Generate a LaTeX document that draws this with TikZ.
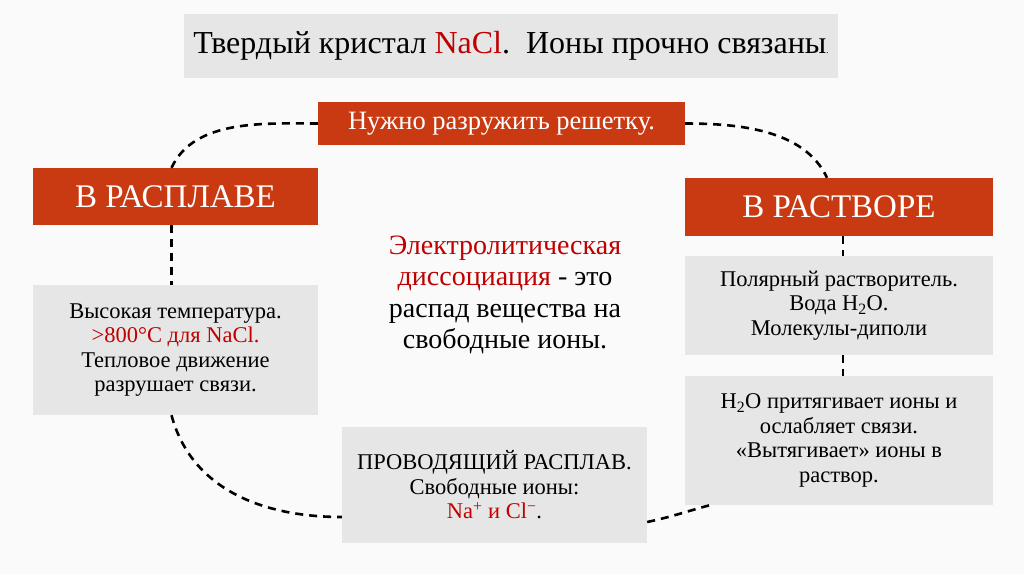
\documentclass[tikz,border=0pt]{standalone}
\usepackage{fontspec}
\setmainfont{Liberation Serif}
\usetikzlibrary{positioning}
\definecolor{Brick}{HTML}{C93A12}
\definecolor{Ash}{HTML}{E6E6E6}
\definecolor{Paper}{HTML}{FAFAFA}
\definecolor{Crimson}{HTML}{C00000}

\begin{document}
\begin{tikzpicture}[x=1pt,y=-1pt,
    redbox/.style={fill=Brick,text=white,inner sep=0pt,align=center},
    greybox/.style={fill=Ash,inner sep=0pt,align=center,font=\fontsize{22.5}{24.5}\selectfont},
    loopline/.style={line width=2.6pt,dash pattern=on 8pt off 6pt}]
    \fill[Paper] (0,0) rectangle (1024,574);
    % boxes
    \node[greybox,minimum width=654pt,minimum height=64pt,font=\fontsize{32}{34}\selectfont] (solid) at (511,46) {Твердый кристал \textcolor{Crimson}{NaCl}.\ \ Ионы прочно связаны{\small .}};
    \node[redbox,minimum width=367pt,minimum height=43pt,font=\fontsize{26.5}{28}\selectfont] (lattice) at (501.5,123.5) {Нужно разружить решетку.};
    \node[redbox,minimum width=285pt,minimum height=57pt,font=\fontsize{33}{34}\selectfont] (melt) at (175.5,196.5) {В РАСПЛАВЕ};
    \node[greybox,minimum width=285pt,minimum height=130pt] (heat) at (175.5,350) {Высокая температура.\\\textcolor{Crimson}{>800°C для NaCl.}\\Тепловое движение\\разрушает связи.};
    \node[align=center,font=\fontsize{28}{31.5}\selectfont] (define) at (505,295) {\textcolor{Crimson}{Электролитическая}\\\textcolor{Crimson}{диссоциация} - это\\распад вещества на\\свободные ионы.};
    \node[redbox,minimum width=308pt,minimum height=58pt,font=\fontsize{33}{34}\selectfont] (solution) at (839,207) {В РАСТВОРЕ};
    \node[greybox,minimum width=308pt,minimum height=99pt] (polar) at (839,305.5) {Полярный растворитель.\\Вода H\textsubscript{2}O.\\Молекулы-диполи};
    \node[greybox,minimum width=308pt,minimum height=129pt] (pull) at (839,440.5) {H\textsubscript{2}O притягивает ионы и\\ослабляет связи.\\«Вытягивает» ионы в\\раствор.};
    \node[greybox,minimum width=305pt,minimum height=116pt] (conduct) at (494.5,485) {ПРОВОДЯЩИЙ РАСПЛАВ.\\Свободные ионы:\\\textcolor{Crimson}{Na\textsuperscript{+} и Cl\textsuperscript{−}}.};
    % dashed loop
    \draw[loopline] (lattice.west) to[out=180,in=65,looseness=0.9] ([xshift=-4pt]melt.north);
    \draw[loopline] ([xshift=-4pt]melt.south) -- ([xshift=-4pt]heat.north);
    \draw[loopline] ([xshift=-4pt]heat.south) to[out=-75,in=180] ([yshift=-32pt]conduct.west);
    \draw[loopline] ([yshift=-37pt]conduct.east) to[out=12,in=195] ([xshift=25pt]pull.south west);
    \draw[loopline] (lattice.east) to[out=0,in=115,looseness=0.9] ([xshift=-12pt]solution.north);
    \draw[loopline] ([xshift=4pt]solution.south) -- ([xshift=4pt]polar.north);
    \draw[loopline] ([xshift=4pt]polar.south) -- ([xshift=4pt]pull.north);
\end{tikzpicture}
\end{document}
